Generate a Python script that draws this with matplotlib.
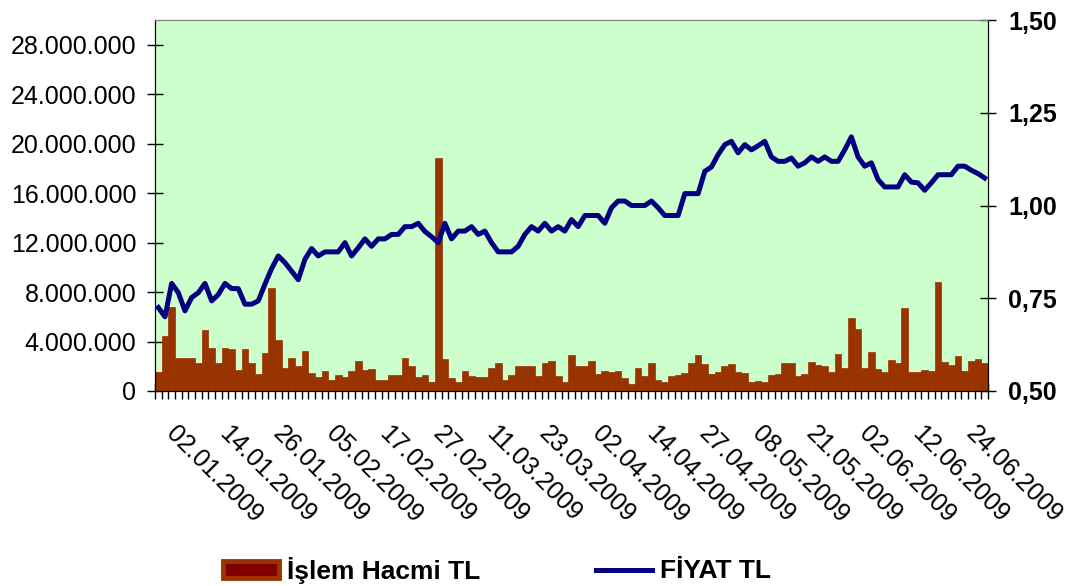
import numpy as np
import matplotlib
matplotlib.use("Agg")
import matplotlib.pyplot as plt
from matplotlib.ticker import FuncFormatter, FixedLocator
from matplotlib.transforms import ScaledTranslation
from matplotlib.patches import Patch
from matplotlib.lines import Line2D

plt.rcParams['font.family'] = ['Liberation Sans', 'DejaVu Sans']

# daily trading volume (million TL), 125 sessions 02.01.2009 - 30.06.2009
volume_m = [
    1.5, 4.46, 6.8, 2.64, 2.64, 2.7, 2.3, 4.9, 3.5, 2.3,
    3.5, 3.4, 1.7, 3.4, 2.3, 1.37, 3.06, 8.36, 4.14, 1.83,
    2.7, 1.99, 3.25, 1.45, 1.1, 1.64, 0.91, 1.29, 1.1, 1.64,
    2.45, 1.7, 1.75, 0.91, 0.91, 1.29, 1.29, 2.7, 2.0, 1.1,
    1.29, 0.75, 18.85, 2.58, 1.02, 0.7, 1.64, 1.18, 1.1, 1.1,
    1.83, 2.26, 0.91, 1.29, 2.0, 2.0, 2.0, 1.18, 2.26, 2.45,
    1.18, 0.7, 2.9, 2.0, 2.0, 2.45, 1.37, 1.64, 1.56, 1.64,
    1.02, 0.56, 1.83, 1.18, 2.26, 0.91, 0.7, 1.18, 1.29, 1.45,
    2.26, 2.9, 2.18, 1.37, 1.5, 2.0, 2.18, 1.5, 1.45, 0.75,
    0.83, 0.7, 1.29, 1.37, 2.26, 2.26, 1.25, 1.37, 2.37, 2.1,
    1.99, 1.5, 2.98, 1.83, 5.94, 5.05, 1.83, 3.17, 1.8, 1.5,
    2.53, 2.26, 6.75, 1.5, 1.5, 1.72, 1.64, 8.82, 2.37, 2.1,
    2.85, 1.64, 2.4, 2.58, 2.3,
]

# closing price (TL)
price = [
    0.725, 0.70, 0.79, 0.765, 0.716, 0.752, 0.765, 0.79, 0.743, 0.76,
    0.79, 0.776, 0.776, 0.734, 0.734, 0.743, 0.788, 0.83, 0.864, 0.846,
    0.823, 0.80, 0.855, 0.884, 0.864, 0.875, 0.875, 0.875, 0.90, 0.864,
    0.886, 0.91, 0.89, 0.91, 0.91, 0.922, 0.922, 0.943, 0.943, 0.952,
    0.93, 0.916, 0.90, 0.952, 0.91, 0.931, 0.931, 0.943, 0.922, 0.931,
    0.90, 0.875, 0.875, 0.875, 0.89, 0.922, 0.943, 0.931, 0.952, 0.931,
    0.943, 0.931, 0.962, 0.943, 0.973, 0.973, 0.973, 0.952, 0.994, 1.012,
    1.012, 1.0, 1.0, 1.0, 1.012, 0.994, 0.973, 0.973, 0.973, 1.032,
    1.032, 1.032, 1.092, 1.104, 1.137, 1.164, 1.173, 1.142, 1.164, 1.15,
    1.161, 1.173, 1.131, 1.119, 1.119, 1.128, 1.106, 1.115, 1.131, 1.119,
    1.131, 1.119, 1.119, 1.15, 1.185, 1.131, 1.106, 1.115, 1.07, 1.05,
    1.05, 1.05, 1.083, 1.063, 1.061, 1.041, 1.061, 1.083, 1.083, 1.083,
    1.106, 1.106, 1.095, 1.086, 1.074,
]

date_labels = [
    "02.01.2009", "14.01.2009", "26.01.2009", "05.02.2009", "17.02.2009",
    "27.02.2009", "11.03.2009", "23.03.2009", "02.04.2009", "14.04.2009",
    "27.04.2009", "08.05.2009", "21.05.2009", "02.06.2009", "12.06.2009",
    "24.06.2009",
]
label_step = 8

bar_color = '#993300'
line_color = '#000080'

x = np.arange(len(price))
vol = np.array(volume_m) * 1e6

fig = plt.figure(figsize=(10.74, 5.86), dpi=100)
ax = fig.add_axes([155 / 1074, 1 - 391 / 586, (988 - 155) / 1074, (391 - 20) / 586])
ax.set_facecolor('#CCFFCC')
ax.bar(x, vol, width=1.0, color=bar_color, edgecolor=bar_color, linewidth=0.5, zorder=2)
ax.set_xlim(-0.5, len(price) - 0.5)
ax.set_ylim(0, 30e6)
ax.set_yticks(np.arange(0, 28e6 + 1, 4e6))
ax.yaxis.set_major_formatter(FuncFormatter(lambda v, p: f"{int(v):,}".replace(',', '.')))

ax2 = ax.twinx()
ax2.plot(x, price, color=line_color, linewidth=3.6, solid_joinstyle='round', zorder=3)
ax2.set_ylim(0.5, 1.5)
ax2.set_yticks([0.5, 0.75, 1.0, 1.25, 1.5])
ax2.yaxis.set_major_formatter(FuncFormatter(lambda v, p: f"{v:.2f}".replace('.', ',')))

for a in (ax, ax2):
    a.spines['top'].set_color('#808080')
    a.spines['left'].set_color('black')
    a.spines['right'].set_color('black')
    a.spines['bottom'].set_color('black')

ax.tick_params(axis='y', direction='inout', length=11, width=1, pad=8, labelsize=18)
ax2.tick_params(axis='y', direction='inout', length=11, width=1, pad=9, labelsize=18)
for t in ax2.get_yticklabels():
    t.set_fontweight('bold')

# category boundary ticks, labels every 8 sessions
ax.xaxis.set_major_locator(FixedLocator(np.arange(-0.5, len(price), 1.0)))
ax.tick_params(axis='x', which='major', direction='inout', length=11, width=1, labelbottom=False)
ax.xaxis.set_minor_locator(FixedLocator(x[::label_step]))
ax.set_xticklabels(date_labels, minor=True)
ax.tick_params(axis='x', which='minor', length=0, pad=22, labelsize=18)
for t in ax.get_xticklabels(minor=True):
    t.set_rotation(-45)
    t.set_rotation_mode('anchor')
    t.set_ha('left')
    t.set_va('top')
    t.set_transform(t.get_transform() + ScaledTranslation(20 / 100, 0, fig.dpi_scale_trans))

handles = [
    Patch(facecolor='#800000', edgecolor=bar_color, linewidth=3.5),
    Line2D([0], [0], color=line_color, linewidth=3.6),
]
fig.legend(handles, ['İşlem Hacmi TL', 'FİYAT TL'], loc='center',
           bbox_to_anchor=(497 / 1074, 1 - 570 / 586), ncol=2, frameon=False,
           prop={'size': 19, 'weight': 'bold'}, handlelength=2.1,
           handletextpad=0.3, columnspacing=4.4, handleheight=0.6)

fig.savefig('out.png', dpi=100)
